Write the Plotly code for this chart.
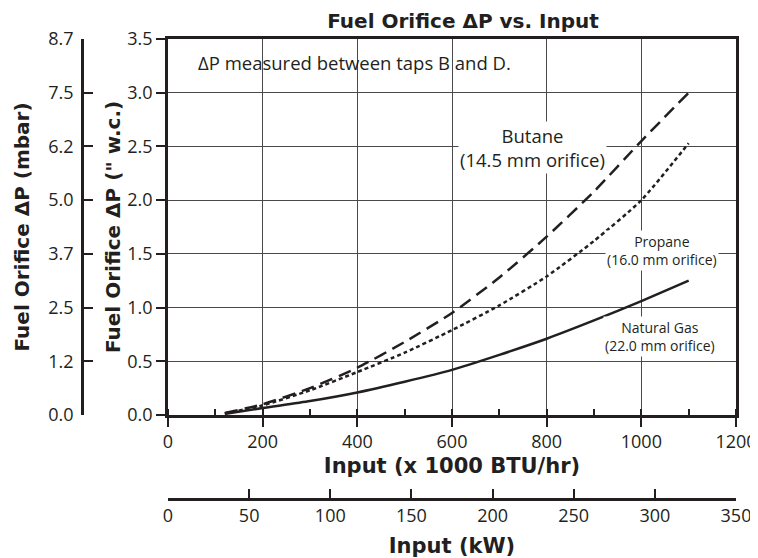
import plotly.graph_objects as go

# ---- data ----
input_kbtu = [120, 200, 300, 400, 500, 600, 700, 800, 900, 1000, 1100]
natural_gas = [0.01, 0.065, 0.13, 0.21, 0.31, 0.42, 0.56, 0.71, 0.88, 1.06, 1.25]
propane = [0.015, 0.09, 0.23, 0.40, 0.58, 0.79, 1.02, 1.29, 1.62, 2.00, 2.53]
butane = [0.02, 0.10, 0.25, 0.44, 0.68, 0.95, 1.28, 1.66, 2.08, 2.55, 3.00]

inch_ticks = [0.0, 0.5, 1.0, 1.5, 2.0, 2.5, 3.0, 3.5]
mbar_labels = ["0.0", "1.2", "2.5", "3.7", "5.0", "6.2", "7.5", "8.7"]
kbtu_ticks = [0, 200, 400, 600, 800, 1000, 1200]
kw_ticks = [0, 50, 100, 150, 200, 250, 300, 350]

INK = "#231f20"
GRID = "#4a4a4c"
FONT = "Open Sans"
BOLD = "DejaVu Sans"

# the page body adds an 8px offset; the layout is sized to compensate
OFF = 8
W, H = 758 - OFF, 558 - OFF
L = 82 - OFF          # mbar axis line
PL = 168 - OFF        # plot left
PR = 736 - OFF        # plot right
PT = 39 - OFF         # plot top
PB = 415 - OFF        # plot bottom
KB = 499 - OFF        # kW axis line

fig = go.Figure()
line_specs = [
    ("Butane", butane, "13px,7px"),
    ("Propane", propane, "4px,3px"),
    ("Natural Gas", natural_gas, "solid"),
]
for name, vals, dash in line_specs:
    fig.add_trace(go.Scatter(x=input_kbtu, y=vals, mode="lines", name=name,
                             line=dict(color=INK, width=2.5, dash=dash, shape="spline", smoothing=0.6),
                             showlegend=False))

# helper traces so the secondary axes are drawn
fig.add_trace(go.Scatter(x=[None], y=[None], xaxis="x2", yaxis="y", showlegend=False, hoverinfo="skip"))
fig.add_trace(go.Scatter(x=[None], y=[None], xaxis="x", yaxis="y2", showlegend=False, hoverinfo="skip"))

tickfont = dict(family=FONT, size=18, color=INK)

x_dom0 = (PL - L) / (PR - L)
y_dom0 = (KB - PB) / (KB - PT)

fig.update_layout(
    template="none",
    width=W, height=H,
    margin=dict(l=L, r=W - PR, t=PT, b=H - KB, autoexpand=False),
    paper_bgcolor="white", plot_bgcolor="white",
    showlegend=False,
    font=dict(family=FONT, color=INK),
    title=dict(text="<b>Fuel Orifice ΔP vs. Input</b>", x=(463 - OFF) / W, xanchor="center", xref="container",
               y=1 - 12.5 / H, yref="container", yanchor="middle", pad=dict(t=0, b=0),
               font=dict(family=BOLD, size=20, color=INK)),
    xaxis=dict(domain=[x_dom0, 1], range=[0, 1200], tickvals=kbtu_ticks, anchor="y",
               ticks="outside", ticklen=9, tickwidth=2, tickcolor=INK, tickfont=tickfont,
               showline=True, linewidth=2.5, linecolor=INK, mirror=True,
               showgrid=True, gridcolor=GRID, gridwidth=1, zeroline=False, automargin=False,
               minor=dict(tick0=0, dtick=100, ticks="inside", ticklen=6, tickwidth=2, tickcolor=INK, showgrid=False),
               title=dict(text="<b>Input (x 1000 BTU/hr)</b>", font=dict(family=BOLD, size=21, color=INK), standoff=6)),
    xaxis2=dict(overlaying="x", anchor="free", position=0, side="bottom", range=[0, 350], tickvals=kw_ticks,
                ticks="inside", ticklen=9, tickwidth=2, tickcolor=INK, tickfont=tickfont,
                showline=True, linewidth=2.5, linecolor=INK, showgrid=False, zeroline=False, automargin=False,
                title=dict(text="<b>Input (kW)</b>", font=dict(family=BOLD, size=21, color=INK), standoff=11)),
    yaxis=dict(domain=[y_dom0, 1], range=[0, 3.5], tickvals=inch_ticks, tickformat=".1f", anchor="x",
               ticks="outside", ticklen=9, tickwidth=2, tickcolor=INK, tickfont=tickfont,
               showline=True, linewidth=2.5, linecolor=INK, mirror=True,
               showgrid=True, gridcolor=GRID, gridwidth=1, zeroline=False, automargin=False,
               title=dict(text="<b>Fuel Orifice ΔP (\" w.c.)</b>", font=dict(family=BOLD, size=20, color=INK), standoff=2)),
    yaxis2=dict(overlaying="y", anchor="free", position=0, side="left", range=[0, 3.5],
                tickvals=inch_ticks, ticktext=mbar_labels, ticklabelstandoff=4,
                ticks="inside", ticklen=9, tickwidth=2, tickcolor=INK, tickfont=tickfont,
                showline=True, linewidth=2.5, linecolor=INK, showgrid=False, zeroline=False, automargin=False,
                title=dict(text="<b>Fuel Orifice ΔP (mbar)</b>", font=dict(family=BOLD, size=20, color=INK), standoff=12)),
)

fig.add_annotation(x=59, y=3.28, xref="x", yref="y", text="ΔP measured between taps B and D.",
                   showarrow=False, xanchor="left", yanchor="middle",
                   font=dict(family=FONT, size=18.5, color=INK))
fig.add_annotation(x=770, y=2.49, xref="x", yref="y", text="Butane<br>(14.5 mm orifice)",
                   showarrow=False, xanchor="center", yanchor="middle", bgcolor="white",
                   font=dict(family=FONT, size=18.5, color=INK))
fig.add_annotation(x=1043, y=1.53, xref="x", yref="y", text="Propane<br>(16.0 mm orifice)",
                   showarrow=False, xanchor="center", yanchor="middle", bgcolor="white",
                   font=dict(family=FONT, size=14, color=INK))
fig.add_annotation(x=1039, y=0.73, xref="x", yref="y", text="Natural Gas<br>(22.0 mm orifice)",
                   showarrow=False, xanchor="center", yanchor="middle", bgcolor="white",
                   font=dict(family=FONT, size=14, color=INK))

fig.write_html("out.html")
